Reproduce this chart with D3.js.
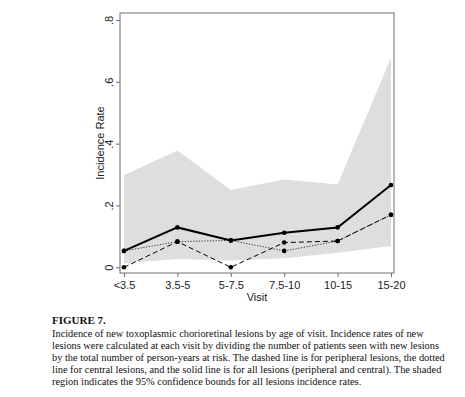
<!DOCTYPE html>
<html>
<head>
<meta charset="utf-8">
<script src="https://cdn.jsdelivr.net/npm/d3@7"></script>
<style>
  body { margin: 0; background: #fff; }
  svg { display: block; }
</style>
</head>
<body>
<script>
const categories = ["<3.5", "3.5-5", "5-7.5", "7.5-10", "10-15", "15-20"];
const allLesions = [0.053, 0.129, 0.087, 0.112, 0.129, 0.266];
const peripheral = [0.0, 0.083, 0.0, 0.080, 0.085, 0.170];
const central = [0.053, 0.083, 0.087, 0.053, 0.085, 0.170];
const ciUpper = [0.298, 0.378, 0.250, 0.284, 0.268, 0.678];
const ciLower = [0.013, 0.027, 0.022, 0.029, 0.047, 0.069];
const yTicks = [0, 0.2, 0.4, 0.6, 0.8];
const yTickLabels = ["0", ".2", ".4", ".6", ".8"];
const captionTitle = "FIGURE 7.";
const captionLines = [
  "Incidence of new toxoplasmic chorioretinal lesions by age of visit. Incidence rates of new",
  "lesions were calculated at each visit by dividing the number of patients seen with new lesions",
  "by the total number of person-years at risk. The dashed line is for peripheral lesions, the dotted",
  "line for central lesions, and the solid line is for all lesions (peripheral and central). The shaded",
  "region indicates the 95% confidence bounds for all lesions incidence rates."
];

const W = 465, H = 397;
const svg = d3.select("body").append("svg").attr("width", W).attr("height", H);

const frame = {left: 120, right: 394, top: 13, bottom: 273};
const x = d3.scalePoint().domain(categories).range([124, 391]);
const y = d3.scaleLinear().domain([0, 0.8]).range([267.3, 20]);

// shaded CI
const ci = categories.map((c, i) => ({c, lo: ciLower[i], hi: ciUpper[i]}));
svg.append("path")
  .datum(ci)
  .attr("fill", "#dedede")
  .attr("d", d3.area().x(d => x(d.c)).y0(d => y(d.lo)).y1(d => y(d.hi)));

// frame
svg.append("rect")
  .attr("x", frame.left).attr("y", frame.top)
  .attr("width", frame.right - frame.left).attr("height", frame.bottom - frame.top)
  .attr("fill", "none").attr("stroke", "#6e6e6e").attr("stroke-width", 1);

// y axis ticks
const yAxis = d3.axisLeft(y).tickValues(yTicks).tickSize(4).tickFormat((d, i) => yTickLabels[i]);
const gy = svg.append("g").attr("transform", `translate(${frame.left},0)`).call(yAxis);
gy.select(".domain").remove();
gy.selectAll(".tick line").attr("stroke", "#6e6e6e");
gy.selectAll(".tick text")
  .attr("x", null).attr("dy", null)
  .attr("transform", "translate(-7,0) rotate(-90)")
  .attr("text-anchor", "middle")
  .attr("font-family", "Liberation Sans, Arial, sans-serif")
  .attr("font-size", 11).attr("fill", "#222");

// x axis ticks
const xAxis = d3.axisBottom(x).tickSize(4);
const gx = svg.append("g").attr("transform", `translate(0,${frame.bottom})`).call(xAxis);
gx.select(".domain").remove();
gx.selectAll(".tick line").attr("stroke", "#6e6e6e");
gx.selectAll(".tick text")
  .attr("y", 8)
  .attr("font-family", "Liberation Sans, Arial, sans-serif")
  .attr("font-size", 11).attr("fill", "#222");

// axis titles
svg.append("text")
  .attr("transform", "translate(104,143) rotate(-90)")
  .attr("text-anchor", "middle")
  .attr("font-family", "Liberation Sans, Arial, sans-serif")
  .attr("font-size", 11).attr("fill", "#222")
  .text("Incidence Rate");
svg.append("text")
  .attr("x", 257).attr("y", 301)
  .attr("text-anchor", "middle")
  .attr("font-family", "Liberation Sans, Arial, sans-serif")
  .attr("font-size", 11).attr("fill", "#222")
  .text("Visit");

// lines
const series = [
  {vals: central, dash: "1.2,1.6", width: 0.8},
  {vals: peripheral, dash: "5,3", width: 1},
  {vals: allLesions, dash: null, width: 2}
];
const line = d3.line().x(d => x(d.c)).y(d => y(d.v));
series.forEach(s => {
  const data = categories.map((c, i) => ({c, v: s.vals[i]}));
  svg.append("path").datum(data)
    .attr("fill", "none").attr("stroke", "#000")
    .attr("stroke-width", s.width)
    .attr("stroke-dasharray", s.dash)
    .attr("d", line);
  svg.selectAll(null).data(data).enter().append("circle")
    .attr("cx", d => x(d.c)).attr("cy", d => y(d.v))
    .attr("r", 2.3).attr("fill", "#000");
});

// caption
svg.append("text")
  .attr("x", 52).attr("y", 324)
  .attr("font-family", "Liberation Serif, Times New Roman, serif")
  .attr("font-size", 11).attr("font-weight", "bold").attr("fill", "#111")
  .text(captionTitle);
const capLines = svg.selectAll(null).data(captionLines).enter().append("text")
  .attr("x", 52).attr("y", (d, i) => 336.5 + i * 12.2)
  .attr("font-family", "Liberation Serif, Times New Roman, serif")
  .attr("font-size", 12).attr("fill", "#111")
  .text(d => d);
// fit the widest line to the reference's text block width
let maxW = 0;
capLines.each(function() { maxW = Math.max(maxW, this.getComputedTextLength()); });
const fs = Math.min(12, 12 * 393 / maxW);
capLines.attr("font-size", fs);
</script>
</body>
</html>
